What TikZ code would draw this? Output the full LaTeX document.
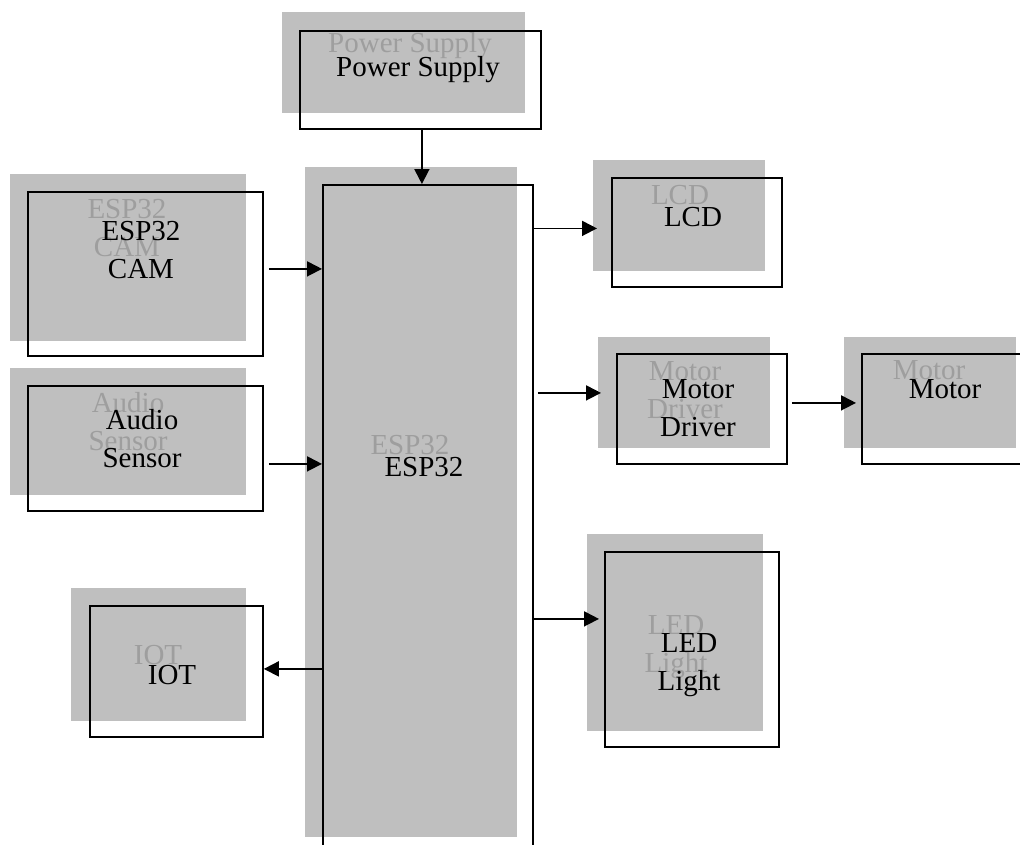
\documentclass[tikz,border=0pt]{standalone}
\usepackage{fontspec}
\setmainfont{Liberation Serif}
\usetikzlibrary{arrows.meta, positioning, calc}
\definecolor{boxgray}{RGB}{191,191,191}
\definecolor{ghostgray}{RGB}{158,158,158}
\tikzset{
  graybox/.style={fill=boxgray, draw=none},
  outbox/.style={rectangle, draw=black, line width=1.8pt, inner sep=0pt, anchor=north west},
  txt/.style={align=center, inner sep=0pt, font=\fontsize{29}{38}\selectfont},
  ghosttxt/.style={txt, text=ghostgray},
  arrow/.style={-{Triangle[length=15pt, width=15pt]}, line width=1.8pt, color=black}
}
\begin{document}
\begin{tikzpicture}[x=1pt, y=-1pt]
  \useasboundingbox (0,0) rectangle (1020,844);
  % Gray back boxes
  \fill[graybox] (282,12) rectangle (525,113); % Power
  \fill[graybox] (305,167) rectangle (517,837); % ESP32
  \fill[graybox] (10,174) rectangle (246,341); % CAM
  \fill[graybox] (10,368) rectangle (246,495); % Audio
  \fill[graybox] (71,588) rectangle (246,721); % IOT
  \fill[graybox] (593,160) rectangle (765,271); % LCD
  \fill[graybox] (598,337) rectangle (770,448); % Driver
  \fill[graybox] (844,337) rectangle (1016,448); % Motor
  \fill[graybox] (587,534) rectangle (763,731); % LED

  % Ghost labels
  \node[ghosttxt] (pwr-g) at (410,46) {Power Supply};
  \node[ghosttxt] (esp-g) at (410,445) {ESP32};
  \node[ghosttxt] (cam-g) at (127,228) {ESP32\\CAM};
  \node[ghosttxt] (aud-g) at (128,422) {Audio\\Sensor};
  \node[ghosttxt] (iot-g) at (158,655) {IOT};
  \node[ghosttxt] (lcd-g) at (680,195) {LCD};
  \node[ghosttxt] (drv-g) at (685,390) {Motor\\Driver};
  \node[ghosttxt] (mot-g) at (929,370) {Motor};
  \node[ghosttxt] (led-g) at (676,647) {LED\\Light};

  % Outline boxes
  \node[outbox, minimum width=241pt, minimum height=98pt] (pwr) at (299,30) {};
  \node[outbox, minimum width=210pt, minimum height=700pt] (esp) at (322,184) {}; % bottom runs off page
  \node[outbox, minimum width=235pt, minimum height=164pt] (cam) at (27,191) {};
  \node[outbox, minimum width=235pt, minimum height=125pt] (aud) at (27,385) {};
  \node[outbox, minimum width=173pt, minimum height=131pt] (iot) at (89,605) {};
  \node[outbox, minimum width=170pt, minimum height=109pt] (lcd) at (611,177) {};
  \node[outbox, minimum width=170pt, minimum height=110pt] (drv) at (616,353) {};
  \node[outbox, minimum width=180pt, minimum height=110pt] (mot) at (861,353) {};
  \node[outbox, minimum width=174pt, minimum height=195pt] (led) at (604,551) {};

  % Labels
  \node[txt] (pwr-t) at (418,70) {Power Supply};
  \node[txt] (esp-t) at (424,467) {ESP32};
  \node[txt] (cam-t) at (141,250) {ESP32\\CAM};
  \node[txt] (aud-t) at (142,439) {Audio\\Sensor};
  \node[txt] (iot-t) at (172,675) {IOT};
  \node[txt] (lcd-t) at (693,217) {LCD};
  \node[txt] (drv-t) at (698,408) {Motor\\Driver};
  \node[txt] (mot-t) at (945,389) {Motor};
  \node[txt] (led-t) at (689,665) {LED\\Light};

  % Connections
  \draw[arrow] ([xshift=1.5pt]pwr.south) -- ([xshift=1.5pt]pwr.south |- esp.north);
  \draw[arrow] ([shift={(5pt,5pt)}]cam.east) -- ([yshift=5pt]cam.east -| esp.west);
  \draw[arrow] ([shift={(5pt,-15.5pt)}]aud.east) -- ([yshift=-15.5pt]aud.east -| esp.west);
  \draw[arrow] ([yshift=2.5pt]iot.east -| esp.west) -- ([yshift=2.5pt]iot.east);
  \draw[arrow] ([yshift=4pt]lcd.west -| esp.east) -- ([shift={(-14pt,4pt)}]lcd.west);
  \draw[arrow] ([shift={(4pt,16pt)}]drv.west -| esp.east) -- ([shift={(-15pt,16pt)}]drv.west);
  \draw[arrow] ([shift={(4pt,6pt)}]drv.east) -- ([shift={(-5pt,6pt)}]mot.west);
  \draw[arrow] ([yshift=30.5pt]led.west -| esp.east) -- ([shift={(-5pt,30.5pt)}]led.west);
\end{tikzpicture}
\end{document}
